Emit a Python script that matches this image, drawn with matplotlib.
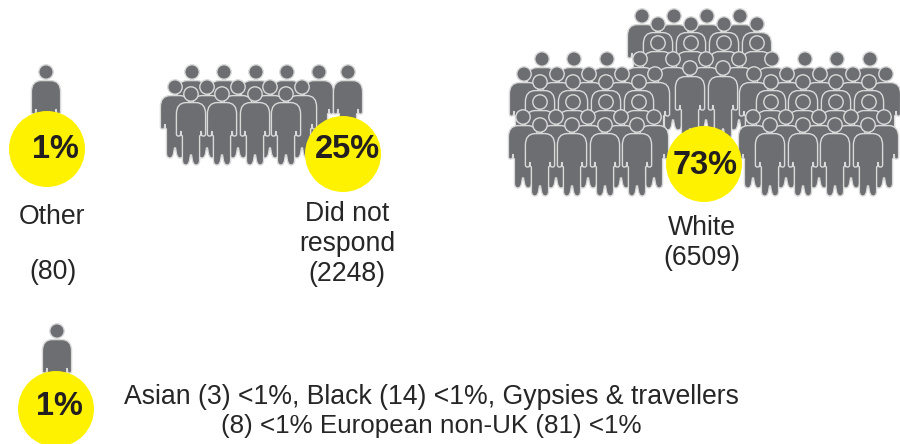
import matplotlib
matplotlib.use("Agg")
import matplotlib.pyplot as plt
import numpy as np
from matplotlib.patches import Circle, PathPatch
from matplotlib.path import Path
from matplotlib.transforms import Affine2D

# Survey responses by ethnicity
group_names = ["Other", "Did not respond", "White"]
group_counts = [80, 2248, 6509]
group_shares = ["1%", "25%", "73%"]
footnote_share = "1%"
footnote_lines = [
    "Asian (3) <1%, Black (14) <1%, Gypsies & travellers",
    "(8) <1% European non-UK (81) <1%",
]

# Pictogram layout: each tuple is (head y, head x positions), back row first
crowd_other = [(72, [46])]
crowd_missing = [
    (72, [192, 224, 256, 287, 319, 348]),
    (87, [175, 207, 238, 270, 302]),
    (94, [191, 222, 255, 286]),
]
crowd_white = [
    (16, [642, 674, 707, 740]),
    (24, [658, 691, 724, 757]),
    (43, [658, 691, 724, 757]),
    (59, [542, 574, 607, 640, 673, 706, 739, 772, 805, 837, 870]),
    (68, [690, 723]),
    (74, [524, 557, 589, 622, 655, 754, 787, 820, 853, 886]),
    (82, [540, 573, 606, 639, 771, 803, 836, 869]),
    (102, [540, 573, 606, 639, 771, 803, 836, 869]),
    (117, [523, 556, 588, 621, 654, 753, 786, 819, 851, 884]),
    (125, [540, 572, 605, 637, 770, 803, 835, 868]),
]
crowd_footnote = [(331, [57])]

GREY = "#6d6e71"
EDGE = "#d9d9d9"
YELLOW = "#fff200"
INK = "#231f20"
RADIUS = 38

plt.rcParams["font.family"] = ["Liberation Sans", "DejaVu Sans"]


def person_path():
    """One standing figure with its head centred on the origin, y pointing down."""
    head = Path.unit_circle()
    head = Path(head.vertices * 7.2, head.codes)
    # Right half of the body, flattened, then mirrored to close the outline
    half = Path(
        [(0, 8.6), (5, 8.6), (14.6, 8.8), (14.6, 20), (14.6, 40), (14.6, 42.5),
         (12, 42), (10.6, 41.5), (10.2, 37), (9.8, 41), (8.6, 42), (8.6, 66),
         (8.6, 71), (5, 71), (1.9, 71), (1.2, 65), (0.5, 61)],
        [Path.MOVETO, Path.LINETO, Path.CURVE3, Path.CURVE3, Path.LINETO, Path.CURVE3,
         Path.CURVE3, Path.LINETO, Path.LINETO, Path.LINETO, Path.LINETO, Path.LINETO,
         Path.CURVE3, Path.CURVE3, Path.CURVE3, Path.CURVE3, Path.LINETO],
    )
    right = half.to_polygons(closed_only=False)[0]
    left = right[::-1] * np.array([-1, 1])
    outline = np.vstack([right, left, right[:1]])
    codes = [Path.MOVETO] + [Path.LINETO] * (len(outline) - 2) + [Path.CLOSEPOLY]
    return Path.make_compound_path(head, Path(outline, codes))


PERSON = person_path()


def draw_crowd(ax, rows, start_z):
    z = start_z
    for head_y, xs in rows:
        for head_x in xs:
            path = PERSON.transformed(Affine2D().translate(head_x, head_y))
            ax.add_patch(PathPatch(path, facecolor=GREY, edgecolor=EDGE, linewidth=1.0, zorder=z))
        z += 0.01


def draw_badge(ax, center, label, label_xy):
    ax.add_patch(Circle(center, RADIUS, facecolor=YELLOW, edgecolor="none", zorder=5))
    ax.text(*label_xy, label, fontsize=23.5, fontweight="bold", color=INK,
            ha="center", va="center", zorder=6)


fig = plt.figure(figsize=(9, 4.44), dpi=100)
ax = fig.add_axes([0, 0, 1, 1])
ax.set_xlim(0, 900)
ax.set_ylim(444, 0)
ax.axis("off")

draw_crowd(ax, crowd_other, 2)
draw_crowd(ax, crowd_missing, 2)
draw_crowd(ax, crowd_white, 2)
draw_crowd(ax, crowd_footnote, 2)

draw_badge(ax, (47, 149), group_shares[0], (55, 149))
draw_badge(ax, (343, 154), group_shares[1], (347, 149))
draw_badge(ax, (704, 164), group_shares[2], (705, 165))
draw_badge(ax, (56, 409), footnote_share, (59, 406))

label_style = dict(fontsize=19.2, color="#262626", ha="center", va="center", zorder=6)
ax.text(52, 217, group_names[0], **label_style)
ax.text(53, 272, f"({group_counts[0]})", **label_style)
ax.text(347, 243.5, "Did not\nrespond\n" + f"({group_counts[1]})", linespacing=1.2, **label_style)
ax.text(702, 243, group_names[2] + "\n" + f"({group_counts[2]})", linespacing=1.2, **label_style)
ax.text(431, 397, footnote_lines[0], **label_style)
ax.text(431, 426, footnote_lines[1], **{**label_style, "fontsize": 18.7})

fig.savefig("out.png", dpi=100)
